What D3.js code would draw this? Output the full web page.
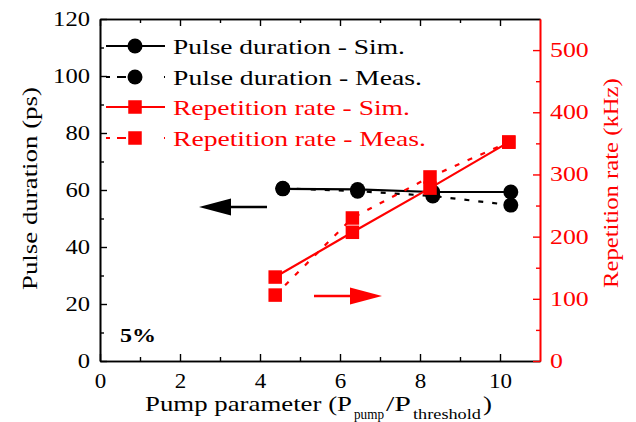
<!DOCTYPE html>
<html>
<head>
<meta charset="utf-8">
<script src="https://cdn.jsdelivr.net/npm/d3@7"></script>
<style>
  body { margin: 0; background: #fff; }
</style>
</head>
<body>
<svg id="chart" width="636" height="422"></svg>
<script>
// данные
const pulseSimX = [4.57, 6.44, 8.32, 10.27]
const pulseSimY = [60.4, 60.2, 59.3, 59.3]
const pulseMeasX = [4.57, 6.44, 8.32, 10.27]
const pulseMeasY = [60.6, 59.6, 57.9, 54.7]
const repSimX = [4.38, 6.31, 8.25, 10.22]
const repSimY = [135, 207, 278, 352]
const repMeasX = [4.38, 6.31, 8.25, 10.22]
const repMeasY = [106, 230, 296, 352]

const xTicks = [0, 2, 4, 6, 8, 10]
const yLeftTicks = [0, 20, 40, 60, 80, 100, 120]
const yRightTicks = [0, 100, 200, 300, 400, 500]

const legendLabels = ["Pulse duration - Sim.", "Pulse duration - Meas.",
                      "Repetition rate - Sim.", "Repetition rate - Meas."]

const RED = "#ff0000"
const FONT = "Liberation Serif"

let svg = d3.select("#chart")

let area = { left: 100, right: 540, top: 19, bottom: 361 }

let scX = d3.scaleLinear().domain([0, 11]).range([area.left, area.right])
let scY = d3.scaleLinear().domain([0, 120]).range([area.bottom, area.top])
let scY2 = d3.scaleLinear().domain([0, 550]).range([area.bottom, area.top])

// шрифт оригинала шире, поэтому растягиваем текст по горизонтали
function stretch(text, width) {
    let w = text.node().getComputedTextLength()
    let sx = width / w
    let x0 = +text.attr("x") || 0
    text.attr("x", x0 / sx).attr("transform", `scale(${sx},1)`)
    return text
}

function addText(parent, x, y, str, size, width, color) {
    let g = parent.append("g").attr("transform", `translate(${x},${y})`)
    let t = g.append("text")
        .attr("fill", color || "black")
        .attr("font-family", FONT)
        .style("font-family", FONT)
        .style("font-size", size + "px")
        .text(str)
    return stretch(t, width)
}

// оси
function drawAxis(axis, tr, color, digitW) {
    let g = svg.append("g")
        .attr("transform", tr)
        .call(axis)
        .attr("font-family", FONT)
    g.select(".domain").attr("stroke", color).attr("stroke-width", 1.6)
    g.selectAll(".tick line").attr("stroke", color).attr("stroke-width", 1.4)
    g.selectAll("text").attr("fill", color)
        .style("font-size", "20px")
        .style("font-family", FONT)
        .each(function () {
            if (this.textContent) stretch(d3.select(this), this.textContent.length * digitW)
        })
    return g
}

// нижняя ось
drawAxis(d3.axisBottom(scX).tickValues(xTicks).tickSizeInner(-7).tickSizeOuter(0).tickPadding(13),
         `translate(0,${area.bottom})`, "black", 11.5)
drawAxis(d3.axisBottom(scX).tickValues([1, 3, 5, 7, 9]).tickSizeInner(-4).tickSizeOuter(0).tickFormat(""),
         `translate(0,${area.bottom})`, "black")
// верхняя ось
drawAxis(d3.axisTop(scX).tickValues(xTicks).tickSizeInner(-7).tickSizeOuter(0).tickFormat(""),
         `translate(0,${area.top})`, "black")
drawAxis(d3.axisTop(scX).tickValues([1, 3, 5, 7, 9]).tickSizeInner(-4).tickSizeOuter(0).tickFormat(""),
         `translate(0,${area.top})`, "black")
// левая ось
drawAxis(d3.axisLeft(scY).tickValues(yLeftTicks).tickSizeInner(-7).tickSizeOuter(0).tickPadding(10),
         `translate(${area.left},0)`, "black", 12.3)
drawAxis(d3.axisLeft(scY).tickValues([10, 30, 50, 70, 90, 110]).tickSizeInner(-4).tickSizeOuter(0).tickFormat(""),
         `translate(${area.left},0)`, "black")
// правая ось
drawAxis(d3.axisRight(scY2).tickValues(yRightTicks).tickSizeInner(-7).tickSizeOuter(0).tickPadding(10),
         `translate(${area.right},0)`, RED, 12.9)
drawAxis(d3.axisRight(scY2).tickValues([50, 150, 250, 350, 450]).tickSizeInner(-4).tickSizeOuter(0).tickFormat(""),
         `translate(${area.right},0)`, RED)

// подписи осей
addText(svg.append("g").attr("transform", "translate(37,290) rotate(-90)"),
        0, 0, "Pulse duration (ps)", 22, 203)
addText(svg.append("g").attr("transform", "translate(618,288) rotate(-90)"),
        0, 0, "Repetition rate (kHz)", 22, 210, RED)

addText(svg, 145, 411, "Pump parameter (P", 21, 207)
addText(svg, 354, 419, "pump", 14, 30)
addText(svg, 386, 411, "/P", 21, 25)
addText(svg, 413, 419, "threshold", 14, 68)
addText(svg, 483, 411, ")", 21, 9)

addText(svg, 120, 342, "5%", 19, 32).style("font-weight", "bold")

// линии
function makeLine(xs, ys, sy) {
    return d3.line().x((d, i) => scX(xs[i])).y((d, i) => sy(ys[i]))(ys)
}

svg.append("path").attr("d", makeLine(pulseSimX, pulseSimY, scY))
    .attr("fill", "none").attr("stroke", "black").attr("stroke-width", 2.2)
svg.append("path").attr("d", makeLine(pulseMeasX, pulseMeasY, scY))
    .attr("fill", "none").attr("stroke", "black").attr("stroke-width", 2.2)
    .attr("stroke-dasharray", "5,9")
svg.append("path").attr("d", makeLine(repSimX, repSimY, scY2))
    .attr("fill", "none").attr("stroke", RED).attr("stroke-width", 2.2)
svg.append("path").attr("d", makeLine(repMeasX, repMeasY, scY2))
    .attr("fill", "none").attr("stroke", RED).attr("stroke-width", 2.2)
    .attr("stroke-dasharray", "5,9")

// маркеры
const r = 7.5
const sq = 13.5
function circles(xs, ys) {
    svg.selectAll(null).data(ys).enter().append("circle")
        .attr("cx", (d, i) => scX(xs[i]))
        .attr("cy", d => scY(d))
        .attr("r", r)
        .attr("fill", "black")
}
function squares(xs, ys) {
    svg.selectAll(null).data(ys).enter().append("rect")
        .attr("x", (d, i) => scX(xs[i]) - sq / 2)
        .attr("y", d => scY2(d) - sq / 2)
        .attr("width", sq).attr("height", sq)
        .attr("fill", RED)
}
circles(pulseSimX, pulseSimY)
circles(pulseMeasX, pulseMeasY)
squares(repSimX, repSimY)
squares(repMeasX, repMeasY)

// стрелки
function arrow(x1, x2, y, color) {
    let dir = Math.sign(x2 - x1)
    svg.append("line")
        .attr("x1", x1).attr("x2", x2 - dir * 20).attr("y1", y).attr("y2", y)
        .attr("stroke", color).attr("stroke-width", 2.4)
    svg.append("path")
        .attr("d", `M${x2},${y} L${x2 - dir * 32},${y - 8.5} L${x2 - dir * 32},${y + 8.5} Z`)
        .attr("fill", color)
}
arrow(267, 199, 207, "black")
arrow(314, 382, 296, RED)

// легенда
const legendY = [46, 77, 107, 138]
const legendW = [232, 249, 237, 253]
const legendColor = ["black", "black", RED, RED]
legendLabels.forEach((lab, i) => {
    let g = svg.append("g")
    g.append("line")
        .attr("x1", 106).attr("x2", 165)
        .attr("y1", legendY[i]).attr("y2", legendY[i])
        .attr("stroke", legendColor[i]).attr("stroke-width", 2.2)
        .attr("stroke-dasharray", i % 2 ? "4,7,9,38,9,7,4" : null)
    if (i < 2) {
        g.append("circle").attr("cx", 135).attr("cy", legendY[i]).attr("r", r).attr("fill", "black")
    } else {
        g.append("rect").attr("x", 135 - sq / 2).attr("y", legendY[i] - sq / 2)
            .attr("width", sq).attr("height", sq).attr("fill", RED)
    }
    addText(g, 173, legendY[i] + 8, lab, 22, legendW[i], legendColor[i])
})
</script>
</body>
</html>
